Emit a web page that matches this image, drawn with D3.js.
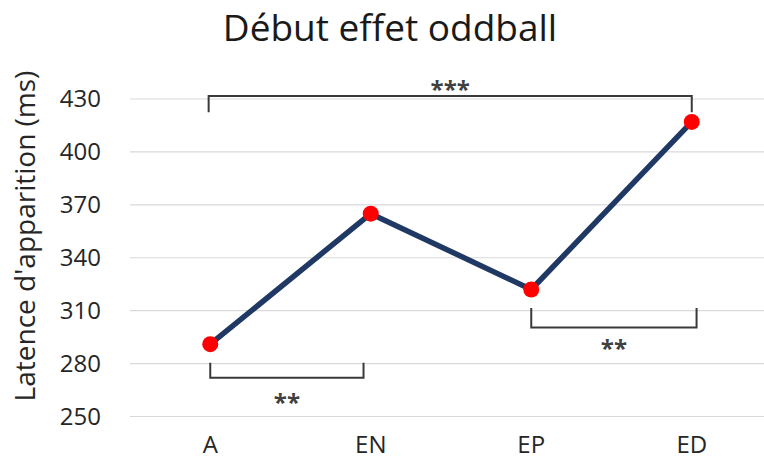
<!DOCTYPE html>
<html>
<head>
<meta charset="utf-8">
<script src="https://cdn.jsdelivr.net/npm/d3@7"></script>
<style>
  body { margin: 0; background: #fff; }
  text { font-family: "Open Sans", "Noto Sans", sans-serif; }
</style>
</head>
<body>
<svg id="chart" width="764" height="467"></svg>
<script>
// data
var categories = ["A", "EN", "EP", "ED"];
var latency = [291, 365, 322, 417];
var yTicks = [250, 280, 310, 340, 370, 400, 430];

// significance brackets: from/to = category index, bar/leg/labelY = value units
var brackets = [
    { from: -0.01, to: 3.0, bar: 431.7, leg: 422.5, label: "***", labelY: 430.6 },
    { from: 0, to: 0.955, bar: 272, leg: 280.5, label: "**", labelY: 253.4 },
    { from: 2.0, to: 3.03, bar: 300.5, leg: 311.5, label: "**", labelY: 284 }
];

var svg = d3.select("#chart");

var x = d3.scaleBand()
    .domain(categories)
    .range([130, 772]);

var y = d3.scaleLinear()
    .domain([250, 430])
    .range([416.5, 99]);

// x by category index, for brackets
var xi = d3.scaleLinear()
    .domain([0, categories.length - 1])
    .range([x(categories[0]) + x.bandwidth() / 2, x(categories[categories.length - 1]) + x.bandwidth() / 2]);

//gridlines
svg.append("g")
    .selectAll("line")
    .data(yTicks)
    .enter()
    .append("line")
    .attr("x1", 130)
    .attr("x2", 764)
    .attr("y1", function (d) { return y(d); })
    .attr("y2", function (d) { return y(d); })
    .attr("stroke", "#d9d9d9")
    .attr("stroke-width", 1.2);

// y axis (labels only)
var yAxis = svg.append("g")
    .attr("transform", "translate(101,0)")
    .call(d3.axisLeft(y).tickValues(yTicks).tickSize(0).tickPadding(0));
yAxis.select(".domain").remove();
yAxis.selectAll("text")
    .attr("font-size", 24)
    .attr("fill", "#262626")
    .style("font-family", "'Open Sans', sans-serif");

// x axis (labels only)
var xAxis = svg.append("g")
    .attr("transform", "translate(0,436)")
    .call(d3.axisBottom(x).tickSize(0).tickPadding(0));
xAxis.select(".domain").remove();
xAxis.selectAll("text")
    .attr("font-size", 24)
    .attr("fill", "#262626")
    .style("font-family", "'Open Sans', sans-serif");

// title
svg.append("text")
    .attr("x", 390)
    .attr("y", 41)
    .attr("text-anchor", "middle")
    .attr("font-size", 37)
    .attr("fill", "#1a1a1a")
    .text("Début effet oddball");

// y axis title
svg.append("text")
    .attr("transform", "translate(35,236) rotate(-90)")
    .attr("text-anchor", "middle")
    .attr("font-size", 28)
    .attr("fill", "#262626")
    .text("Latence d'apparition (ms)");

// brackets
var bg = svg.append("g");
brackets.forEach(function (b) {
    var x1 = xi(b.from), x2 = xi(b.to);
    bg.append("path")
        .attr("d", "M" + x1 + "," + y(b.leg) + "V" + y(b.bar) + "H" + x2 + "V" + y(b.leg))
        .attr("fill", "none")
        .attr("stroke", "#3a3a3a")
        .attr("stroke-width", 2);
    bg.append("text")
        .attr("x", (x1 + x2) / 2)
        .attr("y", y(b.labelY))
        .attr("text-anchor", "middle")
        .attr("font-size", 24)
        .attr("font-weight", "bold")
        .attr("fill", "#404040")
        .text(b.label);
});

// line
var line = d3.line()
    .x(function (d, i) { return x(categories[i]) + x.bandwidth() / 2; })
    .y(function (d) { return y(d); });

svg.append("path")
    .datum(latency)
    .attr("d", line)
    .attr("fill", "none")
    .attr("stroke", "#203864")
    .attr("stroke-width", 5.5)
    .attr("stroke-linejoin", "round");

svg.append("g")
    .selectAll("circle")
    .data(latency)
    .enter()
    .append("circle")
    .attr("cx", function (d, i) { return x(categories[i]) + x.bandwidth() / 2; })
    .attr("cy", function (d) { return y(d); })
    .attr("r", 8)
    .attr("fill", "#ff0000");
</script>
</body>
</html>
